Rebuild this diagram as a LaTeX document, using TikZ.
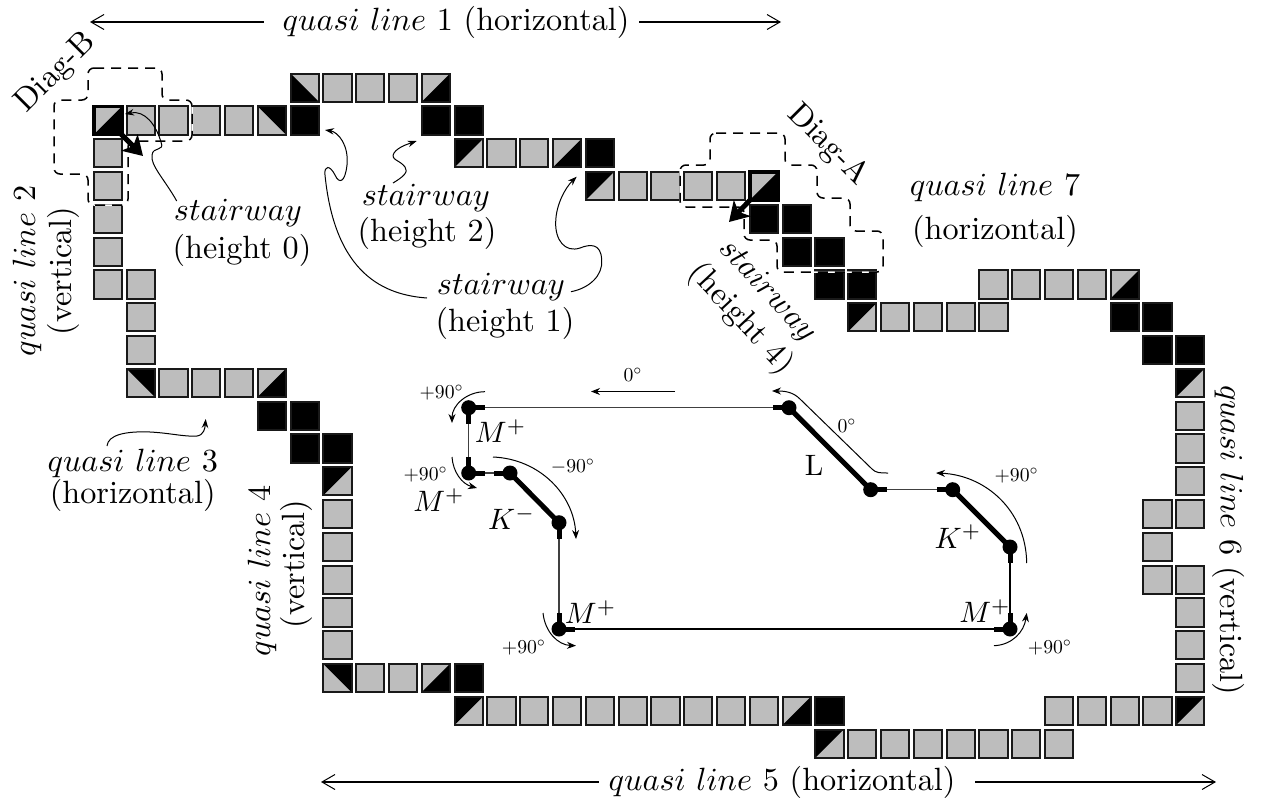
\documentclass[tikz,border=0pt]{standalone}
\usetikzlibrary{arrows.meta}
\definecolor{cellgray}{HTML}{BDBDBD}
\newcommand{\cellpos}[2]{({92.7+32.8*(#1)},{105.3+32.8*(#2)})}
\tikzset{
  cellframe/.style={line width=2pt,draw=black!90,line join=miter},
  pics/gr/.style={code={\draw[cellframe,fill=cellgray] (1,1) rectangle (29.3,29.3);}},
  pics/bk/.style={code={\draw[cellframe,fill=black] (1,1) rectangle (29.3,29.3);}},
  pics/triA/.style={code={\fill[cellgray] (1,1) rectangle (29.3,29.3);\fill (29.3,1) -- (29.3,29.3) -- (1,29.3) -- cycle;\draw[cellframe] (1,1) rectangle (29.3,29.3);}},
  pics/triC/.style={code={\fill[cellgray] (1,1) rectangle (29.3,29.3);\fill (29.3,1) -- (1,1) -- (1,29.3) -- cycle;\draw[cellframe] (1,1) rectangle (29.3,29.3);}},
  pics/triD/.style={code={\fill[cellgray] (1,1) rectangle (29.3,29.3);\fill (1,1) -- (29.3,1) -- (29.3,29.3) -- cycle;\draw[cellframe] (1,1) rectangle (29.3,29.3);}},
  pics/triE/.style={code={\fill[cellgray] (1,1) rectangle (29.3,29.3);\fill (1,1) -- (1,29.3) -- (29.3,29.3) -- cycle;\draw[cellframe] (1,1) rectangle (29.3,29.3);}},
  pics/hot/.style={code={\fill[cellgray] (0.5,0.5) rectangle (29.8,29.8);\fill (29.8,0.5) -- (29.8,29.8) -- (0.5,29.8) -- cycle;\draw[line width=3.5pt,line join=miter] (1.2,1.2) rectangle (29.1,29.1);}},
  lab/.style={scale=3.22,inner sep=0pt,outer sep=0pt},
  vlab/.style={scale=2.95,inner sep=0pt,outer sep=0pt},
  smalllab/.style={scale=1.97,inner sep=0pt,outer sep=0pt},
  dot/.style={circle,fill=black,inner sep=0pt,minimum size=15pt},
  thin line/.style={line width=1.2pt,black!75},
  stub/.style={line width=5pt},
  turn/.style={line width=1pt,-{Stealth[length=9pt,width=7pt]}},
  note/.style={line width=1pt,-{Stealth[length=9pt,width=6.5pt]}},
  long arrow/.style={line width=1.2pt,-{Straight Barb[length=13pt,width=15pt,line width=1pt]}},
  fat arrow/.style={line width=5pt,-{Stealth[length=19pt,width=23pt,inset=5pt]}},
  halo/.style={white,line width=1.5pt,rounded corners=6pt},
  dashline/.style={black,line width=1.5pt,dash pattern=on 10pt off 7pt,rounded corners=6pt},
}
\begin{document}
\begin{tikzpicture}[x=1pt,y=-1pt]
\useasboundingbox (0,0) rectangle (1262,803);
% gray cells
\foreach \c/\r in {1/0,2/0,3/0,4/0, 7/-1,8/-1,9/-1, 12/1,13/1, 16/2,17/2,18/2,19/2,
  24/6,25/6,26/6,27/6, 27/5,28/5,29/5,30/5,
  33/9,33/10,33/11,33/12, 32/12,32/13,32/14, 33/14,33/15,33/16,33/17,
  29/18,30/18,31/18,32/18, 23/19,24/19,25/19,26/19,27/19,28/19,29/19,
  12/18,13/18,14/18,15/18,16/18,17/18,18/18,19/18,20/18,
  8/17,9/17, 7/12,7/13,7/14,7/15,7/16,
  2/8,3/8,4/8, 1/5,1/6,1/7, 0/1,0/2,0/3,0/4,0/5}
  {\pic at \cellpos{\c}{\r} {gr};}
% black cells
\foreach \c/\r in {6/0,10/0,11/0,15/1,20/3,21/3,21/4,22/4,22/5,23/5,
  31/6,32/6,32/7,33/7, 22/18,11/17, 5/9,6/9,6/10,7/10}
  {\pic at \cellpos{\c}{\r} {bk};}
% half cells
\foreach \c/\r in {10/-1,14/1,31/5,21/18,10/17,5/8}{\pic at \cellpos{\c}{\r} {triA};}
\foreach \c/\r in {11/1,15/2,23/6,33/8,33/18,22/19,11/18,7/11}{\pic at \cellpos{\c}{\r} {triC};}
\foreach \c/\r in {5/0,1/8,7/17}{\pic at \cellpos{\c}{\r} {triD};}
\foreach \c/\r in {6/-1}{\pic at \cellpos{\c}{\r} {triE};}
\pic at \cellpos{0}{0} {hot};
\pic at \cellpos{20}{2} {hot};
% dashed windows
\def\diagB{(88,68) -- (162,68) -- (162,100) -- (192,100) -- (192,141) -- (128,141) -- (128,205) -- (88,205) -- (88,174) -- (54,174) -- (54,100) -- (88,100) -- cycle}
\def\diagA{(710,133) -- (785,133) -- (785,165) -- (817,165) -- (817,198) -- (850,198) -- (850,231) -- (883,231) -- (883,272) -- (777,272) -- (777,240) -- (744,240) -- (744,207) -- (680,207) -- (680,165) -- (710,165) -- cycle}
\draw[halo] \diagB; \draw[dashline] \diagB;
\draw[halo] \diagA; \draw[dashline] \diagA;
% thick arrows
\coordinate (hotB) at (120,133); \coordinate (tipB) at (143,156);
\coordinate (hotA) at (752,198); \coordinate (tipA) at (729,222);
\draw[fat arrow] (hotB) -- (tipB);
\draw[fat arrow] (hotA) -- (tipA);
% top and bottom arrows
\node[lab] (q1) at (456,22) {$quasi\ line$ 1 (horizontal)};
\node[lab] (q5) at (782,782) {$quasi\ line$ 5 (horizontal)};
\coordinate (q1l) at (90,22); \coordinate (q1r) at (781,22);
\coordinate (q5l) at (321,782); \coordinate (q5r) at (1216,782);
\draw[long arrow] ([xshift=-19pt]q1.west) -- (q1l);
\draw[long arrow] ([xshift=10pt]q1.east) -- (q1r);
\draw[long arrow] ([xshift=-10pt]q5.west) -- (q5l);
\draw[long arrow] ([xshift=20pt]q5.east) -- (q5r);
% labels
\node[lab,rotate=45] (dB) at (56,73) {Diag-B};
\node[lab,rotate=-45] (dA) at (828,145) {Diag-A};
\node[lab] (s0) at (238,213) {$stairway$};
\node[lab] (h0) at (242,250) {(height 0)};
\node[lab] (s2) at (426,198) {$stairway$};
\node[lab] (h2) at (427,233) {(height 2)};
\node[lab] (s1) at (501,287) {$stairway$};
\node[lab] (h1) at (505,323) {(height 1)};
\node[lab,rotate=-47] (s4) at (767,291) {$stairway$};
\node[lab,rotate=-47] (h4) at (741,319) {(height 4)};
\node[lab] (q7) at (995,187) {$quasi\ line$ 7};
\node[lab] (q7b) at (995,231) {(horizontal)};
\node[lab,rotate=90] (q2) at (27,271) {$quasi\ line$ 2};
\node[lab,rotate=90] (q2b) at (63,271) {(vertical)};
\node[lab] (q3) at (132.7,463) {$quasi\ line$ 3};
\node[lab] (q3b) at (132.7,495) {(horizontal)};
\node[lab,rotate=90] (q4) at (262,571) {$quasi\ line$ 4};
\node[lab,rotate=90] (q4b) at (296,564) {(vertical)};
\node[lab,rotate=-90] (q6) at (1229,540) {$quasi\ line$ 6 (vertical)};
% annotation curves
\coordinate (n0a) at (176.7,201); \coordinate (n0b) at (125,114);
\draw[note] (n0a) .. controls (165,180) and (150,165) .. (152,155) .. controls (153,146) and (165,152) .. (161,142) .. controls (156,125) and (145,110) .. (n0b);
\coordinate (n2a) at (393,183); \coordinate (n2b) at (416.7,141);
\draw[note] (n2a) .. controls (403,177) and (409,172) .. (405,167) .. controls (400,160) and (390,160) .. (394,153) .. controls (398,147) and (408,144) .. (n2b);
\coordinate (n1a) at (427,298); \coordinate (n1b) at (325,130);
\draw[note] (n1a) .. controls (385,295) and (335,275) .. (325,175) .. controls (324,165) and (330,165) .. (335,175) .. controls (339,184) and (345,183) .. (347,165) .. controls (349,145) and (338,132) .. (n1b);
\coordinate (n3a) at (571,291.7); \coordinate (n3b) at (576.7,176.7);
\draw[note] (n3a) .. controls (590,288) and (603,275) .. (601.7,260) .. controls (601,243) and (590,244) .. (580,248) .. controls (565,253) and (555,240) .. (555.7,222) .. controls (556,205) and (565,188) .. (n3b);
\coordinate (n4a) at (107,446); \coordinate (n4b) at (205.7,419);
\draw[note] (n4a) .. controls (108,435) and (125,431) .. (150,432) .. controls (170,433) and (185,437) .. (197,436) .. controls (204,435) and (205,428) .. (n4b);
% inner route
\node[dot] (p1) at (468.7,407.7) {};
\node[dot] (p2) at (468.7,473) {};
\node[dot] (p3) at (510,473) {};
\node[dot] (p4) at (559,522.7) {};
\node[dot] (p5) at (559,629) {};
\node[dot] (p6) at (1010,629) {};
\node[dot] (p7) at (1010,547) {};
\node[dot] (p8) at (952.7,489.7) {};
\node[dot] (p9) at (870.7,489.7) {};
\node[dot] (p10) at (789,407.7) {};
\draw[thin line] (p1.center) -- (p2.center);
\draw[thin line] (p2.center) -- (p3.center);
\draw[thin line] (p4.center) -- (p5.center);
\draw[line width=1.2pt] (p5.center) -- (p6.center);
\draw[line width=1.2pt] (p6.center) -- (p7.center);
\draw[thin line] (p8.center) -- (p9.center);
\draw[thin line] (p10.center) -- (p1.center);
\draw[stub] (p3.center) -- (p4.center);
\draw[stub] (p7.center) -- (p8.center);
\draw[stub] (p9.center) -- (p10.center);
\draw[stub] (p1.center) -- ++(16,0);
\draw[stub] (p1.center) -- ++(0,16);
\draw[stub] (p2.center) -- ++(0,-16);
\draw[stub] (p2.center) -- ++(16,0);
\draw[stub] (p3.center) -- ++(-16,0);
\draw[stub] (p4.center) -- ++(0,16);
\draw[stub] (p5.center) -- ++(0,-16);
\draw[stub] (p5.center) -- ++(16,0);
\draw[stub] (p6.center) -- ++(-16,0);
\draw[stub] (p6.center) -- ++(0,-16);
\draw[stub] (p7.center) -- ++(0,16);
\draw[stub] (p8.center) -- ++(-16,0);
\draw[stub] (p9.center) -- ++(16,0);
\draw[stub] (p10.center) -- ++(-16,0);
% turning arrows
\coordinate (t0) at (485,391.7); \coordinate (t0e) at (452,423);
\draw[turn] (t0) .. controls (467,391.7) and (452,405) .. (t0e);
\coordinate (t1) at (452,457); \coordinate (t1e) at (477,488);
\draw[turn] (t1) .. controls (453,472) and (462,484) .. (t1e);
\coordinate (t2) at (493,457); \coordinate (t2e) at (576,539);
\draw[turn] (t2) .. controls (540,459) and (574,495) .. (t2e);
\coordinate (t3) at (543,613); \coordinate (t3e) at (576,645.7);
\draw[turn] (t3) .. controls (545,632) and (558,645) .. (t3e);
\coordinate (t4) at (1026.7,563); \coordinate (t4e) at (936,473);
\draw[turn] (t4) .. controls (1026,510) and (985,475) .. (t4e);
\coordinate (t5) at (994,645.7); \coordinate (t5e) at (1026.7,613);
\draw[turn] (t5) .. controls (1012,645) and (1024,632) .. (t5e);
\coordinate (t6) at (888,473); \coordinate (t6e) at (772,391);
\draw[turn] (t6) .. controls (880,473) and (876,473) .. (872,469) -- (800,399) .. controls (793,392) and (785,391) .. (t6e);
\coordinate (t7) at (675,391.5); \coordinate (t7e) at (591,391.5);
\draw[turn] (t7) -- (t7e);
% angle labels
\node[smalllab] (a1) at (441.7,393) {$+90^\circ$};
\node[smalllab] (a2) at (425.7,475) {$+90^\circ$};
\node[smalllab] (a3) at (573,467) {$-90^\circ$};
\node[smalllab] (a4) at (524,648) {$+90^\circ$};
\node[smalllab] (a5) at (633,375) {$0^\circ$};
\node[smalllab] (a6) at (847,426) {$0^\circ$};
\node[smalllab] (a7) at (1016.7,476) {$+90^\circ$};
\node[smalllab] (a8) at (1050,648) {$+90^\circ$};
% vertex labels
\node[vlab] (m1) at (500.7,431) {$M^+$};
\node[vlab] (m2) at (439,500) {$M^+$};
\node[vlab] (k1) at (511.7,518) {$K^-$};
\node[vlab] (m3) at (590.7,612) {$M^+$};
\node[vlab] (ll) at (814,465) {L};
\node[vlab] (k2) at (958,536.7) {$K^+$};
\node[vlab] (m4) at (985,611) {$M^+$};
\end{tikzpicture}
\end{document}
